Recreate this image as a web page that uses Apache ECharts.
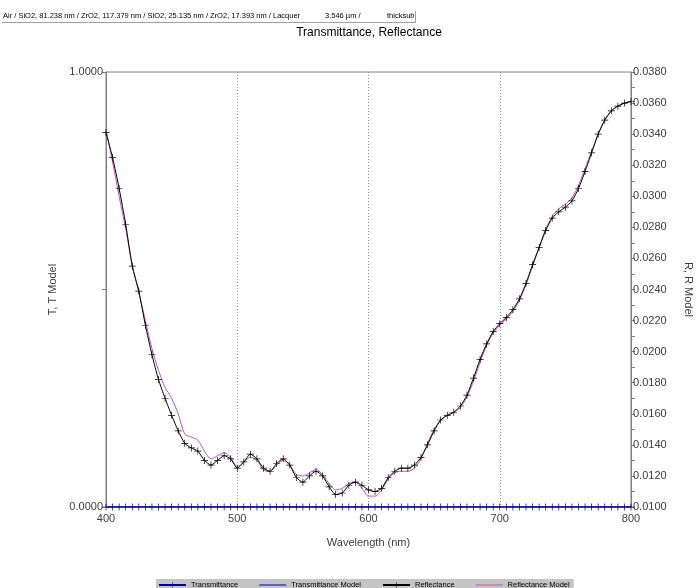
<!DOCTYPE html>
<html>
<head>
<meta charset="utf-8">
<script src="https://cdn.jsdelivr.net/npm/echarts@6/dist/echarts.min.js"></script>
<style>html,body{margin:0;padding:0;background:#fff;}#c{width:696px;height:588px;}</style>
</head>
<body>
<div id="c"></div>
<script>
const wavelengths = [400,405,410,415,420,425,430,435,440,445,450,455,460,465,470,475,480,485,490,495,500,505,510,515,520,525,530,535,540,545,550,555,560,565,570,575,580,585,590,595,600,605,610,615,620,625,630,635,640,645,650,655,660,665,670,675,680,685,690,695,700,705,710,715,720,725,730,735,740,745,750,755,760,765,770,775,780,785,790,795,800];
const transmittance = wavelengths.map(() => 0);
const transmittanceModel = wavelengths.map(() => 0);
const reflectance = [0.0341,0.0325,0.0305,0.0282,0.0255,0.0239,0.0217,0.0198,0.0182,0.0170,0.0159,0.0149,0.0141,0.0138,0.0136,0.0130,0.0127,0.0130,0.0133,0.0131,0.0125,0.0129,0.0134,0.0131,0.0125,0.0123,0.0128,0.0131,0.0127,0.0119,0.0116,0.0120,0.0123,0.0120,0.0113,0.0108,0.0109,0.0114,0.0116,0.0114,0.0111,0.0110,0.0112,0.0119,0.0123,0.0125,0.0125,0.0127,0.0132,0.0140,0.0149,0.0156,0.0159,0.0161,0.0165,0.0172,0.0183,0.0195,0.0205,0.0213,0.0218,0.0222,0.0227,0.0234,0.0244,0.0256,0.0267,0.0278,0.0286,0.0290,0.0293,0.0297,0.0305,0.0316,0.0328,0.0340,0.0349,0.0355,0.0358,0.0360,0.0361];
const reflectanceModel = [0.0343,0.0322,0.0300,0.0279,0.0256,0.0238,0.0220,0.0202,0.0188,0.0177,0.0170,0.0160,0.0147,0.0145,0.0143,0.0136,0.0131,0.0133,0.0135,0.0132,0.0126,0.0129,0.0132,0.0130,0.0124,0.0123,0.0127,0.0130,0.0127,0.0121,0.0120,0.0122,0.0124,0.0121,0.0115,0.0111,0.0112,0.0115,0.0116,0.0112,0.0107,0.0107,0.0111,0.0118,0.0122,0.0123,0.0123,0.0125,0.0131,0.0141,0.0150,0.0156,0.0159,0.0161,0.0164,0.0171,0.0181,0.0193,0.0204,0.0212,0.0217,0.0221,0.0226,0.0233,0.0243,0.0255,0.0267,0.0279,0.0287,0.0292,0.0295,0.0299,0.0307,0.0318,0.0329,0.0340,0.0349,0.0355,0.0358,0.0360,0.0361];
const xTicks = [400,500,600,700,800];
const headerParts = ['Air / SiO2, 81.238 nm / ZrO2, 117.379 nm / SiO2, 25.135 nm / ZrO2, 17.393 nm / Lacquer', '3.546 \u00b5m /', 'thicksub'];
const chartTitle = 'Transmittance, Reflectance';

const pair = (ys) => wavelengths.map((w, i) => [w, ys[i]]);
const PLUS = 'path://M4.5,0h1v4.5h4.5v1h-4.5v4.5h-1v-4.5h-4.5v-1h4.5z';
const LINE_ICON = 'path://M0,3h27v1h-27z';
const FONT = '"Liberation Sans", Arial, sans-serif';
const chart = echarts.init(document.getElementById('c'), null, {renderer: 'canvas'});
chart.setOption({
  animation: false,
  backgroundColor: '#fff',
  grid: {left: 106, right: 65, top: 72, bottom: 81, show: true, borderColor: '#808080', borderWidth: 1,
    containLabel: false, outerBoundsMode: 'none'},
  xAxis: {
    type: 'value', min: 400, max: 800, interval: 100,
    name: 'Wavelength (nm)', nameLocation: 'middle', nameGap: 30,
    nameTextStyle: {fontFamily: FONT, fontSize: 11, color: '#404040'},
    axisLine: {lineStyle: {color: '#808080'}},
    axisTick: {show: false},
    axisLabel: {fontFamily: FONT, fontSize: 11, color: '#404040', margin: 6,
      formatter: v => xTicks.includes(v) ? String(v) : ''},
    splitLine: {show: true, lineStyle: {type: [1, 2], color: '#909090', width: 1}}
  },
  yAxis: [{
    type: 'value', min: 0, max: 1, interval: 1, position: 'left',
    name: 'T, T Model', nameLocation: 'middle', nameGap: 18,
    nameTextStyle: {fontFamily: FONT, fontSize: 11, color: '#404040'},
    axisLine: {show: true, lineStyle: {color: '#808080'}},
    axisTick: {show: true, length: 4, lineStyle: {color: '#808080'}},
    minorTick: {show: true, splitNumber: 2, length: 4, lineStyle: {color: '#808080'}},
    axisLabel: {fontFamily: FONT, fontSize: 11, color: '#404040', margin: 3, formatter: v => v.toFixed(4)},
    splitLine: {show: false}
  }, {
    type: 'value', min: 0.010, max: 0.038, interval: 0.002, position: 'right',
    name: 'R, R Model', nameLocation: 'middle', nameGap: 52, nameRotate: -90,
    nameTextStyle: {fontFamily: FONT, fontSize: 11, color: '#404040'},
    axisLine: {show: true, lineStyle: {color: '#808080'}},
    axisTick: {show: true, length: 4, lineStyle: {color: '#808080'}},
    minorTick: {show: true, splitNumber: 2, length: 4, lineStyle: {color: '#808080'}},
    axisLabel: {fontFamily: FONT, fontSize: 11, color: '#404040', margin: 2, formatter: v => v.toFixed(4)},
    splitLine: {show: false}
  }],
  legend: {
    left: 156, top: 579, padding: [2, 4, 8, 2], itemGap: 21, itemWidth: 27, itemHeight: 7,
    backgroundColor: '#c4c4c4',
    textStyle: {fontFamily: FONT, fontSize: 7.5, color: '#000'},
    data: [
      {name: 'Transmittance'},
      {name: 'Transmittance Model', icon: LINE_ICON},
      {name: 'Reflectance'},
      {name: 'Reflectance Model', icon: LINE_ICON}
    ]
  },
  graphic: [
    {type: 'text', left: 3, top: 12, style: {text: headerParts[0], font: '7.5px ' + FONT, fill: '#000'}},
    {type: 'text', left: 325, top: 12, style: {text: headerParts[1], font: '7.5px ' + FONT, fill: '#000'}},
    {type: 'text', left: 387, top: 12, style: {text: headerParts[2], font: '7.5px ' + FONT, fill: '#000'}},
    {type: 'line', shape: {x1: 2, y1: 22.5, x2: 415, y2: 22.5}, style: {stroke: '#a0a0a0', lineWidth: 1}},
    {type: 'line', shape: {x1: 415.5, y1: 11, x2: 415.5, y2: 23}, style: {stroke: '#a0a0a0', lineWidth: 1}},
    {type: 'text', x: 369, y: 27, style: {text: chartTitle, font: '12px ' + FONT, fill: '#000', textAlign: 'center'}}
  ],
  series: [{
    name: 'Transmittance Model', type: 'line', yAxisIndex: 0, data: pair(transmittanceModel),
    symbol: 'none', lineStyle: {color: '#0000c0', width: 1}, itemStyle: {color: '#0000c0'}, z: 3
  }, {
    name: 'Transmittance', type: 'line', yAxisIndex: 0, data: pair(transmittance),
    symbol: PLUS, symbolSize: 7, showAllSymbol: true,
    lineStyle: {color: '#0000a0', width: 1}, itemStyle: {color: '#000080'}, z: 4
  }, {
    name: 'Reflectance Model', type: 'line', yAxisIndex: 1, data: pair(reflectanceModel),
    symbol: 'none', smooth: 0.3, lineStyle: {color: '#c050c0', width: 1}, itemStyle: {color: '#c050c0'}, z: 2
  }, {
    name: 'Reflectance', type: 'line', yAxisIndex: 1, data: pair(reflectance),
    symbol: PLUS, symbolSize: 7, showAllSymbol: true, smooth: 0.2,
    lineStyle: {color: '#000', width: 1}, itemStyle: {color: '#000'}, z: 3
  }]
});
</script>
</body>
</html>
